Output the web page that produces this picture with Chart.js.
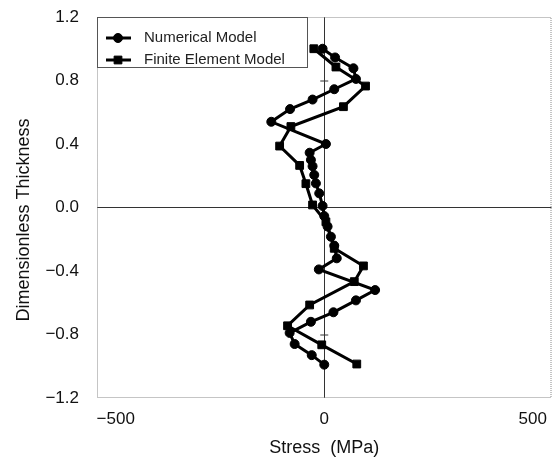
<!DOCTYPE html>
<html>
<head>
<meta charset="utf-8">
<script src="https://cdn.jsdelivr.net/npm/chart.js@4.4.0/dist/chart.umd.min.js"></script>
<style>
html, body { margin: 0; padding: 0; background: #fff; }
</style>
</head>
<body>
<canvas id="stressChart" width="558" height="459"></canvas>
<script>
// values
const seriesNames = ['Numerical Model', 'Finite Element Model'];

const numThickness = [1.0, 0.945, 0.877, 0.81, 0.745, 0.68, 0.62, 0.54, 0.40, 0.345, 0.30, 0.26, 0.205, 0.152, 0.089, 0.01, -0.054, -0.12, -0.184, -0.24, -0.32, -0.39, -0.52, -0.585, -0.66, -0.72, -0.79, -0.86, -0.93, -0.99];
const numStress    = [-4, 26, 70, 76, 24, -28, -82, -127, 4, -35, -32, -28, -24, -20, -12, -4, 0, 8, 16, 24, 30, -13, 122, 76, 22, -32, -83, -71, -30, 0];

const feThickness = [1.0, 0.885, 0.765, 0.635, 0.51, 0.387, 0.265, 0.15, 0.016, -0.09, -0.257, -0.368, -0.467, -0.614, -0.745, -0.865, -0.986];
const feStress    = [-25, 28, 99, 46, -80, -107, -59, -44, -28, 4, 24, 94, 72, -35, -88, -6, 78];

const xTickValues = [-500, 0, 500];
const yTickValues = [-1.2, -0.8, -0.4, 0, 0.4, 0.8, 1.2];
const axisMarks = [0.8, -0.8]; // little cross marks on the zero line

const FONT = '"Liberation Sans", Arial, sans-serif';

function toPoints(xs, ys) {
    return xs.map((x, i) => ({ x: x, y: ys[i] }));
}

function minusFmt(v, digits) {
    const s = Math.abs(v).toFixed(digits);
    return v < 0 ? '\u2212' + s : s;
}

// dotted frame around the plot + ticks on the zero line
const frame = {
    id: 'frame',
    beforeDatasetsDraw(chart) {
        const ctx = chart.ctx, a = chart.chartArea;
        ctx.save();
        ctx.strokeStyle = '#8a8a8a';
        ctx.lineWidth = 1;
        ctx.setLineDash([1, 1]);
        ctx.strokeRect(a.left + 0.5, a.top + 0.5, a.right - a.left - 1, a.bottom - a.top - 1);
        ctx.setLineDash([]);
        ctx.strokeStyle = '#333';
        const x0 = chart.scales.x.getPixelForValue(0);
        axisMarks.forEach(v => {
            const y = chart.scales.y.getPixelForValue(v);
            ctx.beginPath();
            ctx.moveTo(x0 - 4, y + 0.5);
            ctx.lineTo(x0 + 4, y + 0.5);
            ctx.stroke();
        });
        ctx.restore();
    }
};

// boxed legend in the upper left corner of the plot
const boxLegend = {
    id: 'boxLegend',
    afterDraw(chart) {
        const ctx = chart.ctx, a = chart.chartArea;
        const left = a.left, top = a.top, w = 210, h = 50;
        ctx.save();
        ctx.fillStyle = '#fff';
        ctx.fillRect(left, top, w, h);
        ctx.strokeStyle = '#555';
        ctx.lineWidth = 1;
        ctx.strokeRect(left + 0.5, top + 0.5, w, h);
        chart.data.datasets.forEach((ds, i) => {
            const y = top + 21 + i * 22;
            ctx.strokeStyle = '#000';
            ctx.lineWidth = 3;
            ctx.beginPath();
            ctx.moveTo(left + 9, y);
            ctx.lineTo(left + 34, y);
            ctx.stroke();
            ctx.fillStyle = '#000';
            ctx.lineWidth = 1;
            Chart.helpers.drawPoint(ctx, { pointStyle: ds.pointStyle, radius: ds.pointRadius, borderWidth: 1, rotation: 0 }, left + 21, y);
            ctx.fillStyle = '#222';
            ctx.font = '15px ' + FONT;
            ctx.textBaseline = 'middle';
            ctx.fillText(ds.label, left + 47, y);
        });
        ctx.restore();
    }
};

const zeroGrid = c => (c.tick && c.tick.value === 0) ? '#333' : 'rgba(0,0,0,0)';

new Chart(document.getElementById('stressChart').getContext('2d'), {
    type: 'scatter',
    data: {
        datasets: [
            {
                label: seriesNames[0],
                data: toPoints(numStress, numThickness),
                showLine: true,
                borderColor: '#000',
                backgroundColor: '#000',
                borderWidth: 3,
                pointStyle: 'circle',
                pointRadius: 4.5,
                pointBorderWidth: 1,
                tension: 0
            },
            {
                label: seriesNames[1],
                data: toPoints(feStress, feThickness),
                showLine: true,
                borderColor: '#000',
                backgroundColor: '#000',
                borderWidth: 3,
                pointStyle: 'rect',
                pointRadius: 5.5,
                pointBorderWidth: 1,
                tension: 0
            }
        ]
    },
    options: {
        responsive: false,
        animation: false,
        layout: { padding: { left: 0, right: 2, top: 17, bottom: 0 } },
        plugins: {
            legend: { display: false },
            tooltip: { enabled: false }
        },
        scales: {
            x: {
                type: 'linear',
                min: -545,
                max: 545,
                afterBuildTicks: s => { s.ticks = xTickValues.map(v => ({ value: v })); },
                afterFit: s => { s.height = 61; s.paddingLeft = 0; s.paddingRight = 0; },
                grid: { color: zeroGrid, lineWidth: 1, drawTicks: false },
                border: { display: false },
                ticks: {
                    padding: 11,
                    color: '#111',
                    font: { family: FONT, size: 17 },
                    maxRotation: 0,
                    callback: v => minusFmt(v, 0)
                },
                title: {
                    display: true,
                    text: 'Stress  (MPa)',
                    color: '#111',
                    font: { family: FONT, size: 18 },
                    padding: { top: 0, bottom: 0 }
                }
            },
            y: {
                type: 'linear',
                min: -1.2,
                max: 1.2,
                afterBuildTicks: s => { s.ticks = yTickValues.map(v => ({ value: v })); },
                afterFit: s => { s.width = 97; s.paddingTop = 0; s.paddingBottom = 0; },
                grid: { color: zeroGrid, lineWidth: 1, drawTicks: false },
                border: { display: false },
                ticks: {
                    padding: 18,
                    color: '#111',
                    font: { family: FONT, size: 17 },
                    callback: v => minusFmt(v, 1)
                },
                title: {
                    display: true,
                    text: 'Dimensionless Thickness     ',
                    color: '#111',
                    font: { family: FONT, size: 18 },
                    padding: { top: 13, bottom: 0 }
                }
            }
        }
    },
    plugins: [frame, boxLegend]
});
</script>
</body>
</html>
